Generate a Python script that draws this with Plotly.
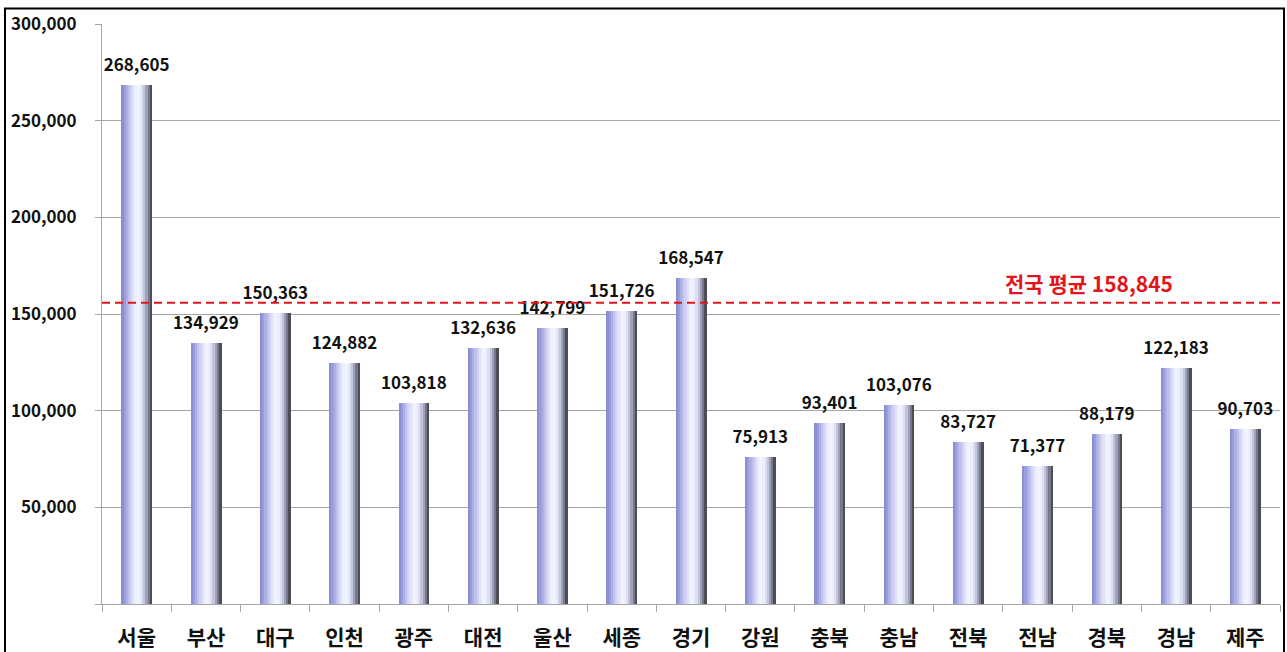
import plotly.graph_objects as go

regions = ["서울", "부산", "대구", "인천", "광주", "대전", "울산", "세종", "경기",
           "강원", "충북", "충남", "전북", "전남", "경북", "경남", "제주"]
values = [268605, 134929, 150363, 124882, 103818, 132636, 142799, 151726, 168547,
          75913, 93401, 103076, 83727, 71377, 88179, 122183, 90703]
national_avg_label = 158845
national_avg_line = 155800  # where the dashed line is drawn in the picture

y_tick_vals = [0, 50000, 100000, 150000, 200000, 250000, 300000]
y_tick_text = ["", "50,000", "100,000", "150,000", "200,000", "250,000", "300,000"]

FONT = "Noto Sans CJK KR"

# cylinder-like shading: strips of colour across each bar
strip_colors = ["#8a8ed5", "#9a9edd", "#acb0e5", "#bec1ed", "#d0d3f3", "#e0e2f8",
                "#eceffc", "#f2f3ff", "#eceefb", "#dcdef2", "#c2c4dc", "#a0a2ba",
                "#77788b", "#4c4d58"]
bar_w = 0.44
n = len(strip_colors)
sw = bar_w / n

fig = go.Figure()
for i, c in enumerate(strip_colors):
    fig.add_trace(go.Bar(
        x=regions, y=values,
        width=[sw * 1.15] * len(regions),
        offset=[-bar_w / 2 + i * sw] * len(regions),
        marker=dict(color=c, line=dict(width=0)),
        hoverinfo="skip", showlegend=False,
    ))

# value labels
fig.add_trace(go.Scatter(
    x=regions, y=values,
    mode="markers+text",
    marker=dict(size=14, color="rgba(0,0,0,0)"),
    text=[f"{v:,}" for v in values],
    textposition="top center",
    textfont=dict(family=FONT, size=17, color="#111111", weight="bold"),
    cliponaxis=False,
    showlegend=False,
    hoverinfo="skip",
))

fig.add_shape(type="line", xref="paper", yref="y", x0=0, x1=1,
              y0=national_avg_line, y1=national_avg_line,
              line=dict(color="#e3151c", width=2, dash="8px,5px"))
fig.add_annotation(xref="paper", yref="y", x=(1089 - 102) / 1178, y=national_avg_line,
                   xanchor="center", yshift=20,
                   text=f"전국 평균 {national_avg_label:,}", showarrow=False,
                   font=dict(family=FONT, size=21, color="#e3151c", weight="bold"))

# outer border
fig.add_shape(type="rect", xref="paper", yref="paper",
              x0=(5 - 102) / 1178, x1=(1284 - 102) / 1178,
              y0=(604 - 670) / 580, y1=(604 - 8.5) / 580,
              line=dict(color="black", width=2), layer="above")

fig.update_layout(
    width=1287, height=652,
    margin=dict(l=102, r=7, t=24, b=48),
    paper_bgcolor="white", plot_bgcolor="white",
    barmode="overlay",
    bargap=0,
    font=dict(family=FONT, color="#111111"),
    xaxis=dict(
        type="category",
        range=[-0.5, len(regions) - 0.5],
        automargin=False,
        showline=True, linecolor="#a6a6a6", linewidth=1,
        ticks="outside", tickson="boundaries", ticklen=7, tickcolor="#a6a6a6",
        tickfont=dict(family=FONT, size=21, color="#111111", weight="bold"),
        ticklabelstandoff=15,
        showgrid=False,
    ),
    yaxis=dict(
        range=[0, 300000],
        automargin=False,
        tickvals=y_tick_vals, ticktext=y_tick_text,
        showline=True, linecolor="#a6a6a6", linewidth=1,
        ticks="outside", ticklen=6, tickcolor="#a6a6a6",
        showgrid=True, gridcolor="#a6a6a6", gridwidth=1,
        zeroline=False,
        tickfont=dict(family=FONT, size=17, color="#111111", weight="bold"),
        ticklabelstandoff=15,
    ),
)

fig.write_html("out.html",
               config={"displayModeBar": False},
               post_script="document.body.style.margin='0';document.body.style.overflow='hidden';")
